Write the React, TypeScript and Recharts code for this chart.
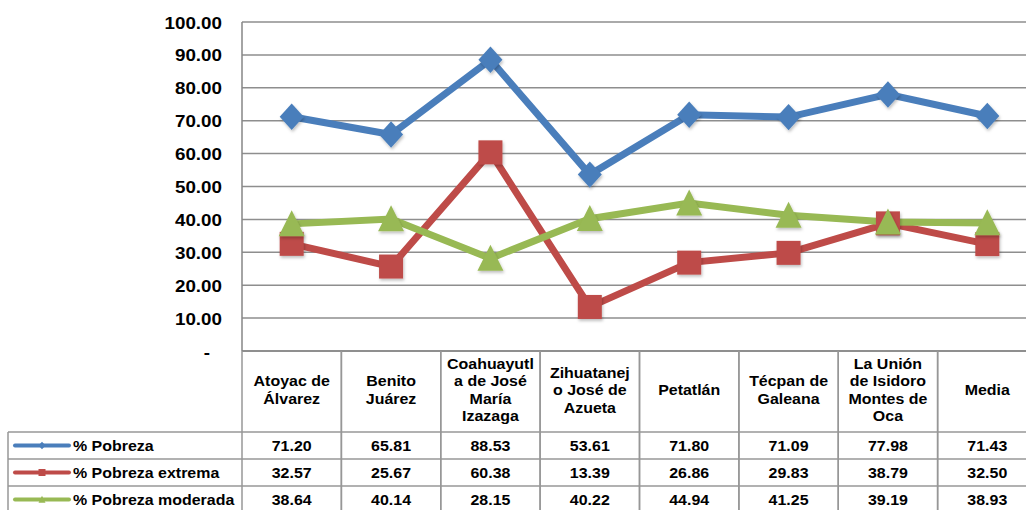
import { LineChart, Line, XAxis, YAxis, CartesianGrid } from "recharts";

const categories = [
  "Atoyac de Álvarez",
  "Benito Juárez",
  "Coahuayutla de José María Izazaga",
  "Zihuatanejo José de Azueta",
  "Petatlán",
  "Técpan de Galeana",
  "La Unión de Isidoro Montes de Oca",
  "Media",
];

// wrapped the way the data table header shows them
const headerLines = [
  ["Atoyac de", "Álvarez"],
  ["Benito", "Juárez"],
  ["Coahuayutl", "a de José", "María", "Izazaga"],
  ["Zihuatanej", "o José de", "Azueta"],
  ["Petatlán"],
  ["Técpan de", "Galeana"],
  ["La Unión", "de Isidoro", "Montes de", "Oca"],
  ["Media"],
];

const pobreza = [71.2, 65.81, 88.53, 53.61, 71.8, 71.09, 77.98, 71.43];
const pobrezaExtrema = [32.57, 25.67, 60.38, 13.39, 26.86, 29.83, 38.79, 32.5];
const pobrezaModerada = [38.64, 40.14, 28.15, 40.22, 44.94, 41.25, 39.19, 38.93];

const seriesNames = ["% Pobreza", "% Pobreza extrema", "% Pobreza moderada"];
const seriesColors = ["#4A7EBB", "#BE4B48", "#98B954"];
const yTicks = [0, 10, 20, 30, 40, 50, 60, 70, 80, 90, 100];

const data = categories.map((name, i) => ({
  name,
  pobreza: pobreza[i],
  extrema: pobrezaExtrema[i],
  moderada: pobrezaModerada[i],
}));
const seriesValues = [pobreza, pobrezaExtrema, pobrezaModerada];

const W = 1040;
const H = 510;
const LEFT = 242;
const TOP = 22;
const RIGHT_M = 3;
const XAXIS_H = 159;
const AXIS_Y = H - XAXIS_H;
const BAND = (W - LEFT - RIGHT_M) / categories.length;
const HEADER_BOTTOM = 432;
const ROW_H = 27;
const BORDER = "#979797";
const SX = 1.14;
const FONT = "'Liberation Sans', Arial, sans-serif";

function SText({ x, y, size, anchor = "middle", children }: any) {
  return (
    <g transform={`translate(${x},${y}) scale(${SX},1)`}>
      <text
        x={0}
        y={0}
        fontSize={size}
        fontWeight="bold"
        fontFamily={FONT}
        textAnchor={anchor}
        dominantBaseline="central"
        fill="#000"
      >
        {children}
      </text>
    </g>
  );
}

function Marker({ kind, cx, cy, s, color, shadow }: any) {
  const f = shadow ? "url(#mshadow)" : undefined;
  if (kind === 0)
    return (
      <path
        d={`M${cx},${cy - s * 1.1} L${cx + s},${cy} L${cx},${cy + s * 1.1} L${cx - s},${cy} Z`}
        fill={color}
        filter={f}
      />
    );
  if (kind === 1)
    return <rect x={cx - s} y={cy - s} width={s * 2} height={s * 2} fill={color} filter={f} />;
  return (
    <path
      d={`M${cx},${cy - s * 1.05} L${cx + s},${cy + s * 0.95} L${cx - s},${cy + s * 0.95} Z`}
      fill={color}
      filter={f}
    />
  );
}

const dotFor = (kind: number, size: number) => (p: any) => (
  <Marker key={`d${kind}-${p.index}`} kind={kind} cx={p.cx} cy={p.cy} s={size} color={seriesColors[kind]} shadow />
);

function YTick({ x, y, payload }: any) {
  if (payload.value === 0) return <SText x={x - 12} y={y + 1} size={16.5} anchor="end">-</SText>;
  return (
    <SText x={x} y={y + 1} size={16.5} anchor="end">
      {payload.value.toFixed(2)}
    </SText>
  );
}

function TableColumn({ x, payload }: any) {
  const i = categories.indexOf(payload.value);
  const x0 = x - BAND / 2;
  const x1 = x + BAND / 2;
  const lines = headerLines[i];
  const hc = 390;
  return (
    <g>
      <line x1={x0} y1={AXIS_Y} x2={x0} y2={H} stroke={BORDER} strokeWidth={1.5} />
      <line x1={x1} y1={AXIS_Y} x2={x1} y2={H} stroke={BORDER} strokeWidth={1.5} />
      {[0, 1, 2].map((r) => (
        <line
          key={r}
          x1={x0}
          y1={HEADER_BOTTOM + r * ROW_H}
          x2={x1}
          y2={HEADER_BOTTOM + r * ROW_H}
          stroke={BORDER}
          strokeWidth={1.5}
        />
      ))}
      {lines.map((t, k) => (
        <SText key={k} x={x} y={hc + (k - (lines.length - 1) / 2) * 17.5} size={14}>
          {t}
        </SText>
      ))}
      {seriesValues.map((vals, r) => (
        <SText key={`v${r}`} x={x} y={HEADER_BOTTOM + r * ROW_H + ROW_H / 2} size={14}>
          {vals[i].toFixed(2)}
        </SText>
      ))}
    </g>
  );
}

function LegendColumn() {
  return (
    <svg width={LEFT + 1} height={H} style={{ position: "absolute", left: 0, top: 0 }}>
      <defs>
        <filter id="mshadow" x="-50%" y="-50%" width="200%" height="200%">
          <feDropShadow dx="1" dy="2" stdDeviation="1.5" floodColor="#000" floodOpacity="0.25" />
        </filter>
      </defs>
      <line x1={8} y1={HEADER_BOTTOM} x2={8} y2={H} stroke={BORDER} strokeWidth={1.5} />
      {[0, 1, 2].map((r) => (
        <line
          key={r}
          x1={8}
          y1={HEADER_BOTTOM + r * ROW_H}
          x2={LEFT}
          y2={HEADER_BOTTOM + r * ROW_H}
          stroke={BORDER}
          strokeWidth={1.5}
        />
      ))}
      {seriesNames.map((n, r) => {
        const cy = HEADER_BOTTOM + r * ROW_H + ROW_H / 2;
        return (
          <g key={n}>
            <line x1={15} y1={cy} x2={69} y2={cy} stroke={seriesColors[r]} strokeWidth={4} strokeLinecap="round" />
            <Marker kind={r} cx={42} cy={cy} s={3.5} color={seriesColors[r]} />
            <SText x={73} y={cy} size={14} anchor="start">
              {n}
            </SText>
          </g>
        );
      })}
    </svg>
  );
}

export default function App() {
  return (
    <div
      style={{
        position: "absolute",
        left: 0,
        top: 0,
        width: 1026,
        height: 510,
        overflow: "hidden",
        background: "#fff",
      }}
    >
      <LegendColumn />
      <div style={{ position: "absolute", left: 0, top: 0 }}>
        <LineChart width={W} height={H} data={data} margin={{ top: TOP, right: RIGHT_M, left: 0, bottom: 0 }}>
          <CartesianGrid vertical={false} stroke="#8E8E8E" strokeWidth={1.5} />
          <YAxis
            domain={[0, 100]}
            ticks={yTicks}
            width={LEFT}
            tickSize={0}
            tickMargin={20}
            tickLine={false}
            axisLine={{ stroke: "#868686", strokeWidth: 1.5 }}
            tick={<YTick />}
            interval={0}
          />
          <XAxis
            dataKey="name"
            height={XAXIS_H}
            padding={{ left: BAND / 2, right: BAND / 2 }}
            tickSize={0}
            tickMargin={0}
            tickLine={false}
            interval={0}
            axisLine={{ stroke: "#868686", strokeWidth: 1.5 }}
            tick={<TableColumn />}
          />
          <Line
            dataKey="pobreza"
            stroke={seriesColors[0]}
            strokeWidth={7}
            dot={dotFor(0, 12)}
            isAnimationActive={false}
          />
          <Line
            dataKey="extrema"
            stroke={seriesColors[1]}
            strokeWidth={7}
            dot={dotFor(1, 12)}
            isAnimationActive={false}
          />
          <Line
            dataKey="moderada"
            stroke={seriesColors[2]}
            strokeWidth={7}
            dot={dotFor(2, 13)}
            isAnimationActive={false}
          />
        </LineChart>
      </div>
    </div>
  );
}
